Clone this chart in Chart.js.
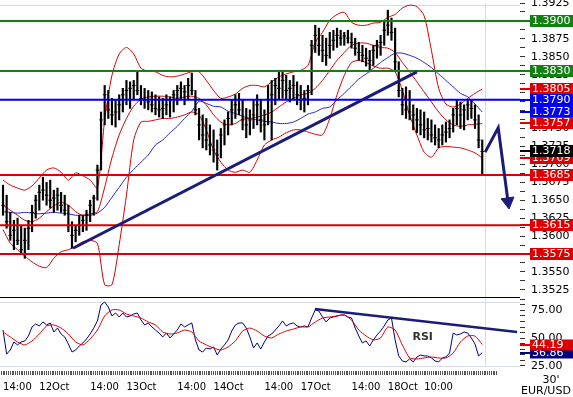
<!DOCTYPE html>
<html>
<head>
<meta charset="utf-8">
<title>EUR/USD 30'</title>
<script src="https://cdn.jsdelivr.net/npm/chart.js@4.4.1/dist/chart.umd.min.js"></script>
<style>
  html, body { margin: 0; padding: 0; background: #fff; }
  #wrap { width: 573px; height: 397px; }
</style>
</head>
<body>
<div id="wrap"><canvas id="eurusd" width="573" height="397"></canvas></div>
<script>
// Hours counted from 11 Oct 00:00, weekend gap removed. One bar per hour.
const firstBarHour = 14;

const highs = [
  1.3671, 1.3657, 1.3633, 1.3622, 1.3625, 1.3615, 1.3611, 1.3622, 1.3643, 1.3657,
  1.3671, 1.3682, 1.3675, 1.3678, 1.3664, 1.3667, 1.3661, 1.3657, 1.3643, 1.3620,
  1.3615, 1.3629, 1.3629, 1.3636, 1.3650, 1.3657, 1.3699, 1.3773, 1.3810, 1.3803,
  1.3792, 1.3790, 1.3797, 1.3806, 1.3817, 1.3815, 1.3817, 1.3831, 1.3810, 1.3806,
  1.3803, 1.3801, 1.3797, 1.3794, 1.3792, 1.3797, 1.3794, 1.3803, 1.3810, 1.3815,
  1.3810, 1.3820, 1.3827, 1.3803, 1.3778, 1.3769, 1.3764, 1.3755, 1.3748, 1.3734,
  1.3750, 1.3762, 1.3773, 1.3790, 1.3797, 1.3799, 1.3790, 1.3778, 1.3776, 1.3790,
  1.3797, 1.3790, 1.3776, 1.3810, 1.3817, 1.3820, 1.3829, 1.3831, 1.3824, 1.3817,
  1.3824, 1.3815, 1.3810, 1.3803, 1.3810, 1.3873, 1.3894, 1.3890, 1.3880, 1.3876,
  1.3884, 1.3887, 1.3890, 1.3887, 1.3884, 1.3887, 1.3883, 1.3876, 1.3870, 1.3866,
  1.3862, 1.3859, 1.3866, 1.3873, 1.3880, 1.3898, 1.3915, 1.3904, 1.3890, 1.3843,
  1.3806, 1.3808, 1.3803, 1.3783, 1.3778, 1.3776, 1.3773, 1.3764, 1.3762, 1.3755,
  1.3750, 1.3755, 1.3759, 1.3762, 1.3778, 1.3790, 1.3787, 1.3783, 1.3790, 1.3790,
  1.3783, 1.3769, 1.3734
];
const lows = [
  1.3629, 1.3611, 1.3594, 1.3581, 1.3588, 1.3574, 1.3569, 1.3581, 1.3606, 1.3625,
  1.3636, 1.3650, 1.3643, 1.3639, 1.3633, 1.3636, 1.3633, 1.3629, 1.3606, 1.3583,
  1.3592, 1.3601, 1.3606, 1.3608, 1.3620, 1.3629, 1.3650, 1.3692, 1.3755, 1.3764,
  1.3755, 1.3752, 1.3762, 1.3773, 1.3783, 1.3778, 1.3790, 1.3797, 1.3783, 1.3778,
  1.3776, 1.3773, 1.3769, 1.3766, 1.3764, 1.3769, 1.3766, 1.3773, 1.3783, 1.3790,
  1.3783, 1.3790, 1.3797, 1.3769, 1.3734, 1.3723, 1.3720, 1.3713, 1.3703, 1.3692,
  1.3709, 1.3727, 1.3741, 1.3755, 1.3764, 1.3769, 1.3748, 1.3737, 1.3741, 1.3750,
  1.3755, 1.3745, 1.3734, 1.3755, 1.3734, 1.3783, 1.3790, 1.3792, 1.3790, 1.3787,
  1.3790, 1.3783, 1.3776, 1.3773, 1.3783, 1.3797, 1.3856, 1.3852, 1.3843, 1.3838,
  1.3848, 1.3859, 1.3863, 1.3866, 1.3866, 1.3869, 1.3862, 1.3852, 1.3845, 1.3843,
  1.3837, 1.3829, 1.3838, 1.3848, 1.3852, 1.3866, 1.3880, 1.3873, 1.3831, 1.3794,
  1.3769, 1.3764, 1.3762, 1.3748, 1.3744, 1.3741, 1.3737, 1.3734, 1.3731, 1.3727,
  1.3723, 1.3727, 1.3731, 1.3737, 1.3745, 1.3755, 1.3750, 1.3748, 1.3762, 1.3764,
  1.3750, 1.3723, 1.3686
];
const closes = [
  1.3643, 1.3620, 1.3601, 1.3608, 1.3594, 1.3581, 1.3594, 1.3611, 1.3633, 1.3650,
  1.3661, 1.3664, 1.3657, 1.3650, 1.3653, 1.3657, 1.3643, 1.3636, 1.3615, 1.3601,
  1.3608, 1.3615, 1.3622, 1.3629, 1.3643, 1.3653, 1.3692, 1.3762, 1.3797, 1.3776,
  1.3769, 1.3773, 1.3783, 1.3797, 1.3803, 1.3806, 1.3810, 1.3803, 1.3792, 1.3790,
  1.3787, 1.3783, 1.3778, 1.3776, 1.3778, 1.3783, 1.3790, 1.3797, 1.3803, 1.3806,
  1.3801, 1.3810, 1.3803, 1.3776, 1.3755, 1.3741, 1.3734, 1.3727, 1.3720, 1.3713,
  1.3741, 1.3755, 1.3764, 1.3776, 1.3783, 1.3776, 1.3762, 1.3755, 1.3762, 1.3769,
  1.3783, 1.3762, 1.3755, 1.3790, 1.3797, 1.3810, 1.3806, 1.3817, 1.3803, 1.3806,
  1.3810, 1.3797, 1.3790, 1.3792, 1.3803, 1.3866, 1.3880, 1.3866, 1.3859, 1.3852,
  1.3866, 1.3873, 1.3880, 1.3876, 1.3879, 1.3876, 1.3870, 1.3862, 1.3856, 1.3852,
  1.3848, 1.3845, 1.3859, 1.3866, 1.3870, 1.3887, 1.3894, 1.3884, 1.3843, 1.3803,
  1.3783, 1.3776, 1.3773, 1.3769, 1.3762, 1.3755, 1.3748, 1.3750, 1.3741, 1.3737,
  1.3734, 1.3741, 1.3745, 1.3750, 1.3769, 1.3778, 1.3769, 1.3776, 1.3783, 1.3778,
  1.3762, 1.3734, 1.3718
];

// Indicator lines, one value every 2 hours starting at firstBarHour
const bbUpper = [
  1.3678, 1.3671, 1.3667, 1.3664, 1.3670, 1.3681, 1.3692, 1.3695, 1.3689, 1.3678,
  1.3688, 1.3684, 1.3678, 1.3667, 1.3762, 1.3824, 1.3854, 1.3863, 1.3854, 1.3834,
  1.3830, 1.3829, 1.3824, 1.3822, 1.3823, 1.3826, 1.3829, 1.3829, 1.3817, 1.3803,
  1.3792, 1.3794, 1.3798, 1.3806, 1.3810, 1.3810, 1.3808, 1.3815, 1.3822, 1.3826,
  1.3829, 1.3831, 1.3838, 1.3870, 1.3884, 1.3901, 1.3909, 1.3912, 1.3898, 1.3894,
  1.3894, 1.3897, 1.3898, 1.3905, 1.3909, 1.3918, 1.3922, 1.3920, 1.3907, 1.3859,
  1.3806, 1.3784, 1.3780, 1.3784, 1.3792, 1.3799, 1.3805
];
const bbMiddle = [
  1.3643, 1.3636, 1.3629, 1.3622, 1.3620, 1.3625, 1.3634, 1.3642, 1.3647, 1.3643,
  1.3634, 1.3629, 1.3631, 1.3634, 1.3668, 1.3709, 1.3741, 1.3764, 1.3781, 1.3791,
  1.3794, 1.3795, 1.3795, 1.3794, 1.3792, 1.3794, 1.3795, 1.3792, 1.3783, 1.3769,
  1.3759, 1.3755, 1.3757, 1.3763, 1.3764, 1.3766, 1.3769, 1.3773, 1.3780, 1.3787,
  1.3792, 1.3797, 1.3799, 1.3806, 1.3817, 1.3831, 1.3845, 1.3856, 1.3866, 1.3869,
  1.3869, 1.3866, 1.3863, 1.3862, 1.3856, 1.3842, 1.3829, 1.3815, 1.3801, 1.3787,
  1.3773, 1.3762, 1.3755, 1.3753, 1.3755, 1.3756, 1.3757
];
const bbLower = [
  1.3609, 1.3590, 1.3581, 1.3572, 1.3564, 1.3558, 1.3556, 1.3569, 1.3578, 1.3581,
  1.3586, 1.3592, 1.3594, 1.3590, 1.3532, 1.3532, 1.3588, 1.3657, 1.3734, 1.3759,
  1.3760, 1.3762, 1.3764, 1.3764, 1.3766, 1.3769, 1.3773, 1.3769, 1.3748, 1.3720,
  1.3703, 1.3692, 1.3689, 1.3692, 1.3689, 1.3706, 1.3727, 1.3734, 1.3738, 1.3744,
  1.3748, 1.3748, 1.3745, 1.3742, 1.3741, 1.3764, 1.3797, 1.3824, 1.3842, 1.3845,
  1.3842, 1.3837, 1.3834, 1.3834, 1.3829, 1.3803, 1.3769, 1.3741, 1.3717, 1.3710,
  1.3723, 1.3725, 1.3724, 1.3723, 1.3720, 1.3716, 1.3709
];
const maBlue = [
  1.3634, 1.3633, 1.3632, 1.3633, 1.3632, 1.3631, 1.3632, 1.3633, 1.3632, 1.3631,
  1.3629, 1.3629, 1.3629, 1.3632, 1.3640, 1.3654, 1.3668, 1.3682, 1.3693, 1.3703,
  1.3713, 1.3727, 1.3734, 1.3744, 1.3753, 1.3764, 1.3774, 1.3788, 1.3785, 1.3781,
  1.3780, 1.3774, 1.3771, 1.3767, 1.3764, 1.3762, 1.3760, 1.3759, 1.3757, 1.3757,
  1.3759, 1.3764, 1.3770, 1.3773, 1.3778, 1.3780, 1.3790, 1.3799, 1.3809, 1.3819,
  1.3826, 1.3834, 1.3842, 1.3849, 1.3855, 1.3855, 1.3852, 1.3848, 1.3842, 1.3835,
  1.3826, 1.3817, 1.3808, 1.3799, 1.3794, 1.3784, 1.3773
];

// RSI (hourly) and its red signal line (every 2 hours)
const rsiValues = [
  57.3, 35.5, 39.2, 46.5, 43.8, 46.5, 47.4, 51.9, 60.1, 62.8,
  61.0, 64.6, 61.9, 63.7, 55.5, 59.1, 53.7, 51.0, 44.7, 37.4,
  39.2, 42.8, 45.6, 49.2, 53.7, 59.1, 65.5, 80.0, 82.7, 78.2,
  70.0, 72.7, 69.1, 72.7, 69.1, 70.0, 71.8, 72.7, 66.4, 61.9,
  63.7, 60.1, 57.3, 54.6, 51.0, 54.6, 50.1, 53.7, 57.3, 62.8,
  60.1, 61.9, 63.7, 48.3, 39.2, 37.4, 41.0, 40.1, 42.0, 34.7,
  40.1, 43.8, 48.3, 56.4, 61.9, 63.7, 63.7, 59.1, 51.0, 41.0,
  45.6, 40.1, 46.5, 51.9, 53.7, 57.3, 61.0, 65.5, 61.0, 62.8,
  63.7, 61.0, 60.1, 61.0, 60.1, 68.2, 75.5, 74.5, 69.1, 64.6,
  68.2, 69.1, 70.0, 70.9, 70.9, 69.1, 68.2, 59.1, 51.9, 45.6,
  47.4, 42.8, 48.3, 52.8, 56.4, 61.0, 66.4, 68.2, 48.3, 33.8,
  29.3, 28.4, 31.1, 28.4, 32.9, 34.7, 33.8, 33.8, 32.0, 29.3,
  28.4, 32.0, 32.9, 36.5, 54.6, 52.8, 53.7, 55.5, 54.6, 50.1,
  44.7, 33.8, 36.86
];
const rsiSignal = [
  55.5, 51.0, 46.5, 43.8, 47.4, 53.7, 61.0, 61.9, 59.1, 53.7,
  46.5, 43.8, 49.2, 57.3, 70.0, 75.5, 75.5, 71.8, 70.0, 68.2,
  64.6, 61.9, 55.5, 53.7, 54.6, 57.3, 55.5, 47.4, 43.8, 41.0,
  39.2, 42.0, 47.4, 56.4, 59.1, 56.4, 51.9, 50.1, 53.7, 56.4,
  58.2, 60.1, 60.1, 64.6, 68.2, 69.1, 70.0, 70.9, 66.4, 57.3,
  51.9, 48.3, 50.1, 60.1, 57.3, 43.8, 32.0, 31.1, 32.0, 32.9,
  32.0, 32.0, 36.5, 46.5, 51.9, 51.9, 44.19
];

// Drawn levels and annotations
const levelPrices = [1.3900, 1.3830, 1.3790, 1.3685, 1.3615, 1.3575];
const trendHours = [33.3, 128.0];
const trendPrices = [1.3583, 1.3829];
const arrowHours = [146.8, 150.4, 153.1];
const arrowPrices = [1.3717, 1.3751, 1.3648];
const rsiTrendHours = [99.9, 155.6];
const rsiTrendValues = [76.4, 55.5];
const projectionStart = 146.8;
const rsiLabelHour = 129.6;
const rsiLabelValue = 50.5;

// Value tags on the right axis
const priceTags = [1.3900, 1.3830, 1.3805, 1.3790, 1.3773, 1.3757, 1.3709, 1.3718, 1.3685, 1.3615, 1.3575];
const rsiTags = [36.86, 44.19];

// Time axis
const xTickHours = [14, 24, 38, 48, 62, 72, 86, 96, 110, 120, 130];
const xTickLabels = ['14:00', '12Oct', '14:00', '13Oct', '14:00', '14Oct', '14:00', '17Oct', '14:00', '18Oct', '10:00'];
const xMin = 13.17;
const xMax = 156.4;

// ---- styles ----
const GREEN = '#138013';
const BLUE = '#0000ee';
const RED = '#dd0000';
const NAVY = '#1b1b7a';
const levelColors = [GREEN, GREEN, BLUE, RED, RED, RED];
const priceTagColors = [GREEN, GREEN, RED, BLUE, BLUE, RED, RED, '#000', RED, RED, RED];
const rsiTagColors = ['#000080', RED];

Chart.defaults.font.family = 'DejaVu Sans';
Chart.defaults.font.size = 11;
Chart.defaults.color = '#000';

const barHours = highs.map((_, i) => firstBarHour + i);
const lineHours = bbUpper.map((_, i) => firstBarHour + 2 * i);
const xy = (xs, ys) => xs.map((x, i) => ({ x: x, y: ys[i] }));

const datasets = [];

[bbUpper, bbMiddle, bbLower].forEach(arr => {
    datasets.push({
        type: 'line', data: xy(lineHours, arr), yAxisID: 'y', order: 10,
        borderColor: '#d40000', borderWidth: 1, pointRadius: 0, tension: 0.25
    });
});
datasets.push({
    type: 'line', data: xy(lineHours, maBlue), yAxisID: 'y', order: 10,
    borderColor: '#2323c8', borderWidth: 1, pointRadius: 0, tension: 0.25
});

// OHLC: high-low range as floating bars, close as a small tick
datasets.push({
    type: 'bar', yAxisID: 'y', order: 8,
    data: barHours.map((h, i) => ({ x: h, y: [lows[i], highs[i]] })),
    backgroundColor: '#000', borderWidth: 0, barThickness: 1.5
});
datasets.push({
    type: 'line', data: xy(barHours, closes), yAxisID: 'y', order: 7,
    showLine: false, pointStyle: 'line', pointRadius: 1.8,
    pointBorderWidth: 1, borderColor: '#000'
});

levelPrices.forEach((p, i) => {
    datasets.push({
        type: 'line', yAxisID: 'y', order: 5,
        data: [{ x: xMin, y: p }, { x: xMax, y: p }],
        borderColor: levelColors[i], borderWidth: 2, pointRadius: 0
    });
});

datasets.push({
    type: 'line', data: xy(trendHours, trendPrices), yAxisID: 'y', order: 1,
    borderColor: NAVY, borderWidth: 3, pointRadius: 0
});
datasets.push({
    type: 'line', data: xy(arrowHours, arrowPrices), yAxisID: 'y', order: 1,
    borderColor: NAVY, borderWidth: 3,
    pointRadius: [0, 0, 7.5], pointStyle: 'triangle', pointRotation: 172,
    pointBackgroundColor: NAVY, pointBorderColor: NAVY, pointBorderWidth: 1
});

// RSI panel
datasets.push({
    type: 'line', data: xy(lineHours, rsiSignal), yAxisID: 'yR', order: 6,
    borderColor: RED, borderWidth: 1, pointRadius: 0, tension: 0.2
});
datasets.push({
    type: 'line', data: xy(barHours, rsiValues), yAxisID: 'yR', order: 6,
    borderColor: '#000080', borderWidth: 1, pointRadius: 0
});
datasets.push({
    type: 'line', data: xy(rsiTrendHours, rsiTrendValues), yAxisID: 'yR', order: 1,
    borderColor: NAVY, borderWidth: 2.5, pointRadius: 0
});

function tag(ctx, scale, value, color, text, left, h) {
    const py = Math.round(scale.getPixelForValue(value));
    ctx.fillStyle = color;
    ctx.fillRect(left, py - 1, 10, 2);
    ctx.fillRect(left + 10, py - h / 2, 45, h);
    ctx.fillStyle = '#fff';
    ctx.fillText(text, left + 12, py + 0.5);
}

const decor = {
    id: 'decor',
    beforeDatasetsDraw(chart) {
        const { ctx, chartArea: a, scales } = chart;
        const y = scales.y, r = scales.yR, x = scales.x;
        const hline = (yy, color) => {
            ctx.strokeStyle = color;
            ctx.beginPath();
            ctx.moveTo(a.left, yy);
            ctx.lineTo(a.right, yy);
            ctx.stroke();
        };
        ctx.save();
        ctx.lineWidth = 1;
        hline(y.top + 2.5, '#d5dae3');
        hline(r.top + 5.5, '#d5dae3');
        hline(r.bottom - 4.5, '#d5dae3');
        const sx = Math.round(x.getPixelForValue(projectionStart)) + 0.5;
        ctx.strokeStyle = '#d5dae3';
        ctx.beginPath();
        ctx.moveTo(sx, y.top);
        ctx.lineTo(sx, r.bottom - 4.5);
        ctx.stroke();
        hline(y.bottom + 0.5, '#000');
        ctx.restore();
    },
    afterDatasetsDraw(chart) {
        const { ctx, scales } = chart;
        ctx.save();
        ctx.font = 'bold 11px "DejaVu Sans"';
        ctx.fillStyle = '#333';
        ctx.textAlign = 'center';
        ctx.textBaseline = 'middle';
        ctx.fillText('RSI', scales.x.getPixelForValue(rsiLabelHour), scales.yR.getPixelForValue(rsiLabelValue));
        ctx.restore();
    },
    afterDraw(chart) {
        const { ctx, chartArea: a, scales } = chart;
        ctx.save();
        ctx.font = '11px "DejaVu Sans"';
        ctx.textBaseline = 'middle';
        ctx.textAlign = 'left';
        priceTags.forEach((v, i) => tag(ctx, scales.y, v, priceTagColors[i], v.toFixed(4), a.right, 12));
        rsiTags.forEach((v, i) => tag(ctx, scales.yR, v, rsiTagColors[i], v.toFixed(2), a.right, 11));
        ctx.fillStyle = '#000';
        ctx.textAlign = 'center';
        ctx.fillText("30'", 551, 380);
        ctx.textAlign = 'left';
        ctx.fillText('EUR/USD', 521, 391);
        ctx.restore();
    }
};

const yTicksMain = [];
for (let k = 0; k <= 32; k++) yTicksMain.push(+(1.3525 + k * 0.00125).toFixed(5));
const yTicksRsi = [];
for (let v = 25; v <= 85; v += 5) yTicksRsi.push(v);

new Chart(document.getElementById('eurusd'), {
    type: 'line',
    data: { datasets: datasets },
    options: {
        responsive: false,
        animation: false,
        events: [],
        layout: { autoPadding: false, padding: { top: 3, left: 0, right: 0, bottom: 0 } },
        plugins: { legend: { display: false }, tooltip: { enabled: false } },
        scales: {
            x: {
                type: 'linear', min: xMin, max: xMax, offset: false,
                border: { display: false },
                grid: { drawOnChartArea: false, offset: false, tickLength: 4, tickColor: '#555' },
                afterBuildTicks: s => {
                    const t = [];
                    for (let h = 13.5; h <= 150; h += 0.5) t.push({ value: h });
                    s.ticks = t;
                },
                ticks: {
                    autoSkip: false, maxRotation: 0, minRotation: 0, align: 'start', padding: 6,
                    font: { size: 10 },
                    callback: v => {
                        const i = xTickHours.indexOf(v);
                        return i >= 0 ? xTickLabels[i] : '';
                    }
                },
                afterFit: s => { s.height = 26; s.paddingLeft = 0; s.paddingRight = 0; }
            },
            y: {
                type: 'linear', position: 'right', stack: 'panels', stackWeight: 294,
                min: 1.3515, max: 1.3925,
                border: { display: false },
                grid: { drawOnChartArea: false, tickLength: 5, tickColor: '#333' },
                afterBuildTicks: s => { s.ticks = yTicksMain.map(v => ({ value: v })); },
                ticks: {
                    autoSkip: false, padding: 6,
                    callback: v => Math.round(v * 10000) % 25 === 0 ? v.toFixed(4) : ''
                },
                afterFit: s => { s.width = 53; s.paddingTop = 0; s.paddingBottom = 0; }
            },
            yR: {
                type: 'linear', position: 'right', stack: 'panels', stackWeight: 74,
                min: 20.2, max: 87.2,
                border: { display: false },
                grid: { drawOnChartArea: false, tickLength: 5, tickColor: '#333' },
                afterBuildTicks: s => { s.ticks = yTicksRsi.map(v => ({ value: v })); },
                ticks: {
                    autoSkip: false, padding: 6,
                    callback: v => v % 25 === 0 ? v.toFixed(2) : ''
                },
                afterFit: s => { s.width = 53; s.paddingTop = 0; s.paddingBottom = 0; }
            }
        }
    },
    plugins: [decor]
});
</script>
</body>
</html>
